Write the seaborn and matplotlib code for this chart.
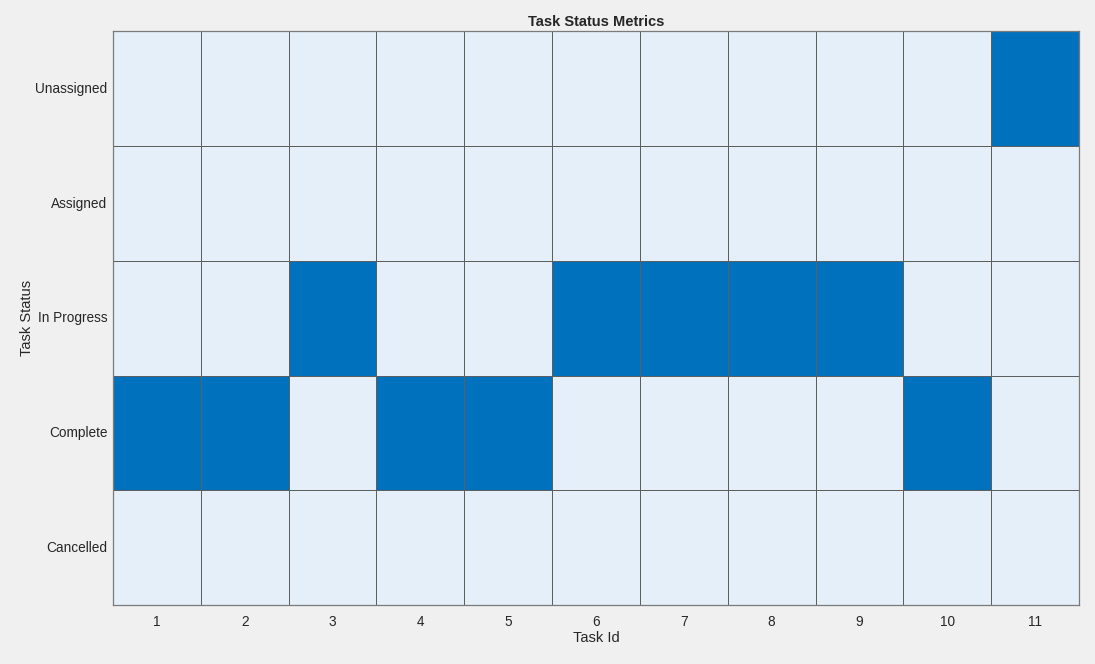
import matplotlib
matplotlib.use("Agg")
import matplotlib.pyplot as plt
import pandas as pd
import seaborn as sns
from matplotlib.colors import ListedColormap

# task id -> status (one status per task)
task_ids = [1, 2, 3, 4, 5, 6, 7, 8, 9, 10, 11]
task_status = ["Complete", "Complete", "In Progress", "Complete", "Complete",
               "In Progress", "In Progress", "In Progress", "In Progress",
               "Complete", "Unassigned"]
status_order = ["Unassigned", "Assigned", "In Progress", "Complete", "Cancelled"]

sns.set_theme(style="white")
plt.rcParams["font.family"] = ["Liberation Sans", "DejaVu Sans"]
text_col = "#262626"

df = pd.DataFrame({"Task Id": task_ids, "Task Status": task_status})
grid = pd.crosstab(df["Task Status"], df["Task Id"])
grid = grid.reindex(index=status_order, columns=task_ids, fill_value=0)

fig = plt.figure(figsize=(10.95, 6.64), dpi=100, facecolor="#f0f0f0")
ax = fig.add_axes([0.1032, 0.0889, 0.8822, 0.8637])
cmap = ListedColormap(["#e5eff9", "#0072bd"])
sns.heatmap(grid, ax=ax, cmap=cmap, vmin=0, vmax=1, cbar=False,
            linewidths=0.6, linecolor="#5e5e5e")

for s in ax.spines.values():
    s.set_visible(True)
    s.set_color("#7a7a7a")
    s.set_linewidth(0.9)

ax.tick_params(axis="both", length=0, labelsize=9.8, colors=text_col)
ax.tick_params(axis="y", pad=4)
ax.tick_params(axis="x", pad=7)
ax.set_yticklabels(status_order, rotation=0)
ax.set_xticklabels([str(t) for t in task_ids], rotation=0)
ax.set_xlabel("Task Id", fontsize=10.5, color=text_col, labelpad=1.5)
ax.set_ylabel("Task Status", fontsize=10.5, color=text_col, labelpad=1)
ax.set_title("Task Status Metrics", fontsize=10.5, fontweight="bold",
             color=text_col, pad=4)

fig.savefig("out.png", dpi=100, facecolor=fig.get_facecolor())
